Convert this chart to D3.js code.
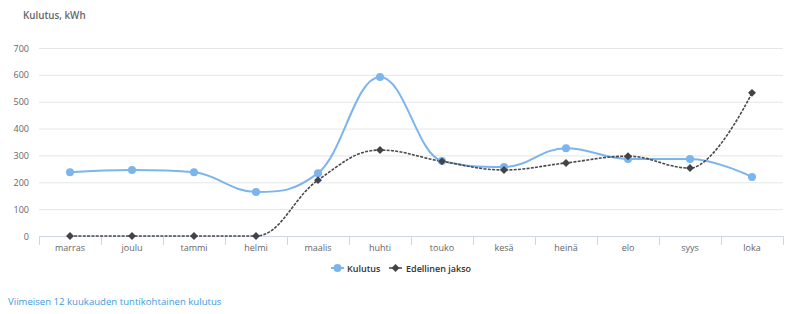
<!DOCTYPE html>
<html><head><meta charset="utf-8">
<script src="https://cdn.jsdelivr.net/npm/d3@7"></script>
<style>
body{margin:0;background:#fff;font-family:"Open Sans",sans-serif;}
</style></head>
<body><svg id="c" width="800" height="314"></svg>
<script>
const categories = ["marras","joulu","tammi","helmi","maalis","huhti","touko","kesä","heinä","elo","syys","loka"];
const kulutus = [237, 246, 237, 164, 234, 592, 279, 257, 327, 287, 287, 220];
const edellinen = [0, 0, 0, 0, 208, 320, 278, 246, 272, 297, 253, 533];
const yTicks = [0,100,200,300,400,500,600,700];
const seriesNames = ["Kulutus","Edellinen jakso"];

const svg = d3.select("#c");
const L = 39, R = 783, T = 48, B = 236;
const x = d3.scaleBand().domain(categories).range([L, R]);
const y = d3.scaleLinear().domain([0, 700]).range([B, T]);

// gridlines
svg.append("g").selectAll("line").data(yTicks).join("line")
  .attr("x1", L).attr("x2", R).attr("y1", d => y(d)+0.5).attr("y2", d => y(d)+0.5)
  .attr("stroke", "#e6e6e6").attr("stroke-width", 1);

// y labels
svg.append("g").selectAll("text").data(yTicks).join("text")
  .attr("x", 29).attr("y", d => y(d) + 3.5).attr("text-anchor", "end")
  .attr("font-size", "9px").attr("fill", "#666").text(d => d);

// x axis
const xAxis = d3.axisBottom(x).tickSize(0).tickPadding(9);
const gx = svg.append("g").attr("transform", `translate(0,${B})`).call(xAxis);
gx.select(".domain").remove();
gx.selectAll("text").attr("font-size", "9px").attr("fill", "#666").attr("font-family", "Open Sans, sans-serif");
svg.append("line").attr("x1", L).attr("x2", R).attr("y1", B+0.5).attr("y2", B+0.5).attr("stroke", "#ccd6eb");
const edges = categories.map(c => x(c)).concat([R]);
svg.append("g").selectAll("line").data(edges).join("line")
  .attr("x1", d => Math.round(d)+0.5).attr("x2", d => Math.round(d)+0.5).attr("y1", B).attr("y2", B+9)
  .attr("stroke", "#ccd6eb");

// title
svg.append("text").attr("x", 23).attr("y", 19).attr("font-size", "9.8px").attr("fill", "#666")
  .attr("font-weight", "600").text("Kulutus, kWh");

// Highcharts-style spline
function splinePath(pts) {
  const p = d3.path();
  const sm = 1.5, den = sm + 1;
  const rc = [];
  pts.forEach((pt, i) => {
    const [px, py] = pt;
    let lcx = px, lcy = py;
    if (i > 0 && i < pts.length - 1) {
      const [lx, ly] = pts[i-1], [nx, ny] = pts[i+1];
      lcx = (sm*px + lx)/den; lcy = (sm*py + ly)/den;
      let rcx = (sm*px + nx)/den, rcy = (sm*py + ny)/den;
      let corr = 0;
      if (rcx !== lcx) corr = ((rcy - lcy)*(rcx - px))/(rcx - lcx) + py - rcy;
      lcy += corr; rcy += corr;
      if (lcy > ly && lcy > py) { lcy = Math.max(ly, py); rcy = 2*py - lcy; }
      else if (lcy < ly && lcy < py) { lcy = Math.min(ly, py); rcy = 2*py - lcy; }
      if (rcy > ny && rcy > py) { rcy = Math.max(ny, py); lcy = 2*py - rcy; }
      else if (rcy < ny && rcy < py) { rcy = Math.min(ny, py); lcy = 2*py - rcy; }
      rc[i] = [rcx, rcy];
    }
    if (i === 0) p.moveTo(px, py);
    else {
      const prev = rc[i-1] || pts[i-1];
      p.bezierCurveTo(prev[0], prev[1], lcx, lcy, px, py);
    }
  });
  return p.toString();
}
const cx = c => x(c) + x.bandwidth()/2;
const ptsK = categories.map((c, i) => [cx(c), y(kulutus[i])]);
const ptsE = categories.map((c, i) => [cx(c), y(edellinen[i])]);

svg.append("path").attr("d", splinePath(ptsK)).attr("fill", "none")
  .attr("stroke", "#7cb5ec").attr("stroke-width", 2);
svg.append("path").attr("d", splinePath(ptsE)).attr("fill", "none")
  .attr("stroke", "#48484d").attr("stroke-width", 1.6).attr("stroke-dasharray", "3,1.3");

svg.append("g").selectAll("circle").data(ptsK).join("circle")
  .attr("cx", d => d[0]).attr("cy", d => d[1]).attr("r", 4).attr("fill", "#7cb5ec");
const diamond = d3.symbol().type(d3.symbolDiamond2).size(40);
svg.append("g").selectAll("path").data(ptsE).join("path")
  .attr("transform", d => `translate(${d[0]},${d[1]})`).attr("d", diamond).attr("fill", "#434348");

// legend
const lg = svg.append("g").attr("font-size", "9px").attr("font-weight", "600").attr("fill", "#333");
lg.append("line").attr("x1", 331).attr("x2", 344).attr("y1", 268).attr("y2", 268).attr("stroke", "#7cb5ec").attr("stroke-width", 2);
lg.append("circle").attr("cx", 337.5).attr("cy", 268).attr("r", 4).attr("fill", "#7cb5ec");
lg.append("text").attr("x", 347).attr("y", 271.5).text(seriesNames[0]);
lg.append("line").attr("x1", 389).attr("x2", 402).attr("y1", 268).attr("y2", 268).attr("stroke", "#434348").attr("stroke-width", 1.5);
lg.append("path").attr("transform", "translate(395.5,268)").attr("d", diamond).attr("fill", "#434348");
lg.append("text").attr("x", 406).attr("y", 271.5).text(seriesNames[1]);

// caption
svg.append("text").attr("x", 8).attr("y", 305).attr("font-size", "9.6px").attr("fill", "#3d9be0")
  .text("Viimeisen 12 kuukauden tuntikohtainen kulutus");
</script></body></html>
